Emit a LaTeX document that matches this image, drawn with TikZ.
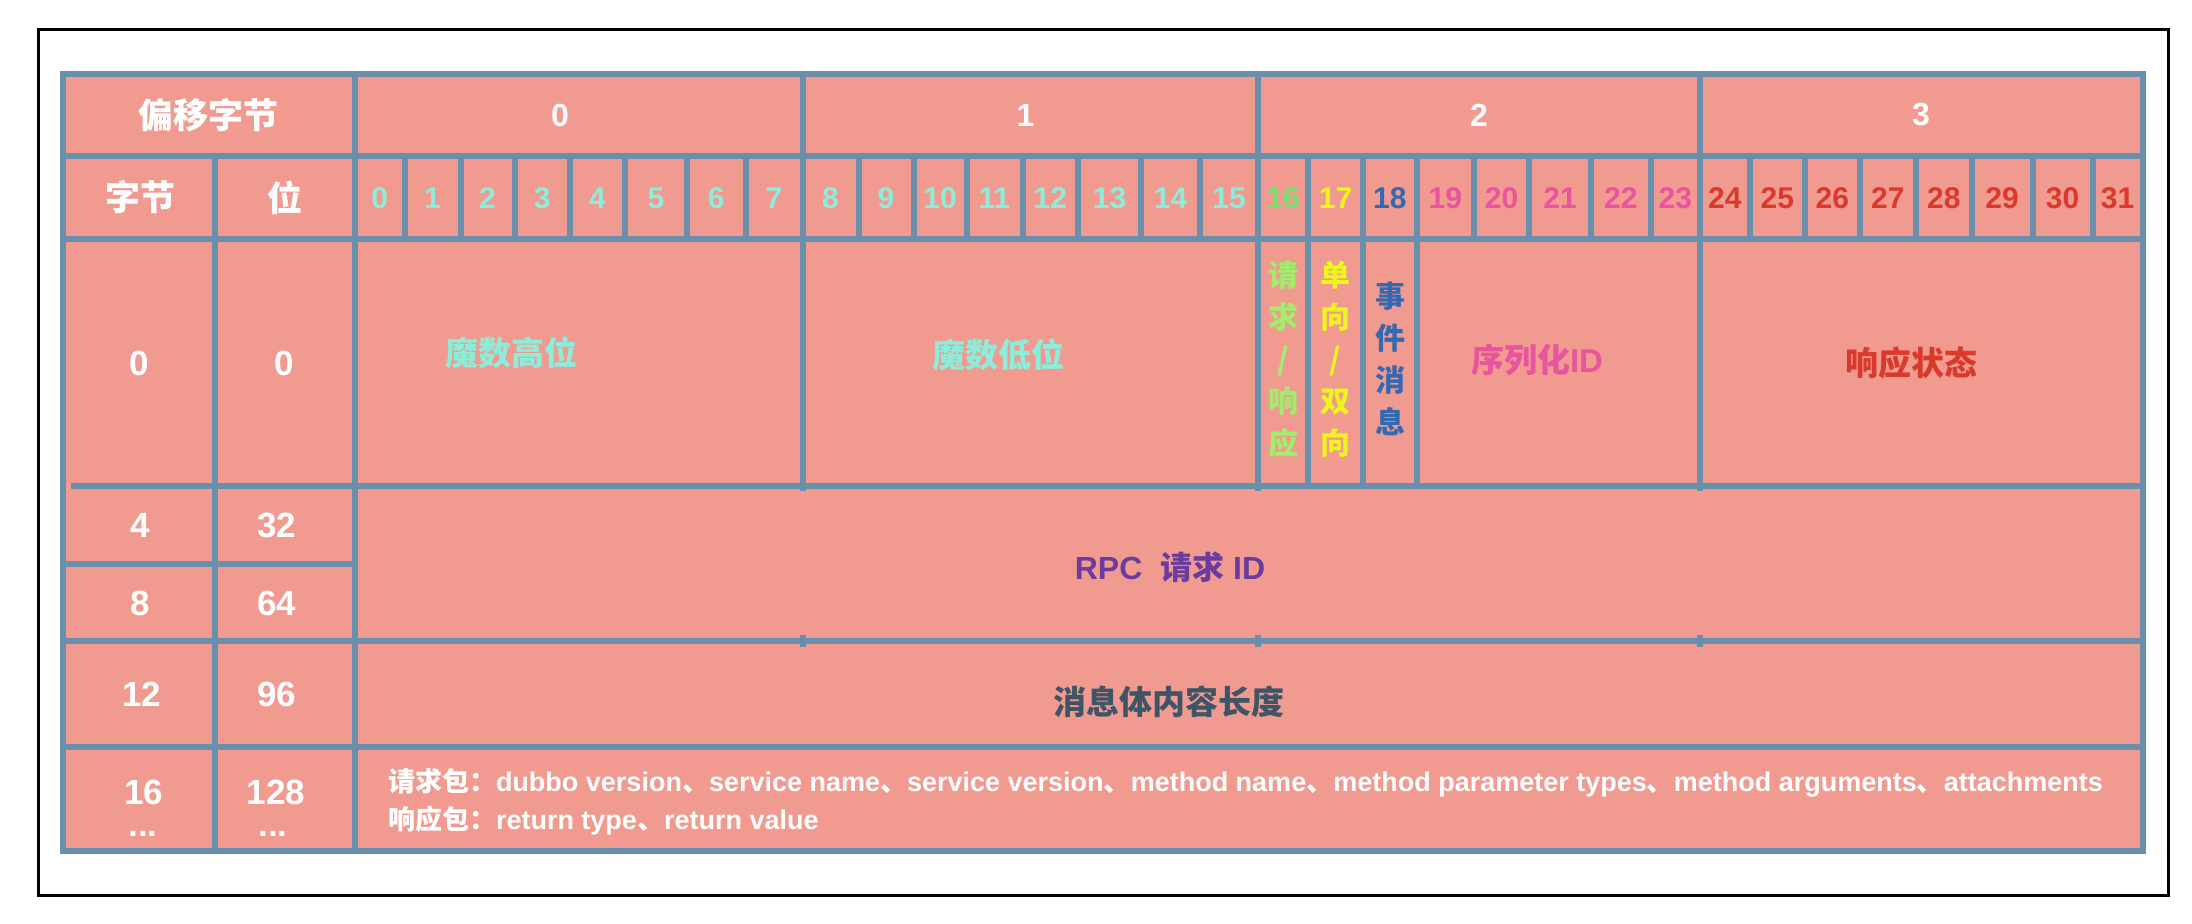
\documentclass[tikz,border=0pt]{standalone}
\usepackage{fontspec}
\setmainfont{Liberation Sans}
\newfontfamily\cjk{Noto Sans CJK SC}
\definecolor{salmonc}{HTML}{F09A90}
\definecolor{gridc}{HTML}{688FAB}
\definecolor{cyanc}{HTML}{8CEEDA}
\definecolor{greenc}{HTML}{6EE66A}
\definecolor{lgreenc}{HTML}{A2EE6C}
\definecolor{yellowc}{HTML}{EEF41E}
\definecolor{bluec}{HTML}{3468B0}
\definecolor{pinkc}{HTML}{E8559E}
\definecolor{redc}{HTML}{D93A2C}
\definecolor{purplec}{HTML}{6A3C9E}
\definecolor{slatec}{HTML}{3E5568}
\begin{document}
\begin{tikzpicture}[x=0.5pt,y=-0.5pt,
  gline/.style={draw=gridc,line width=3pt},
  txt/.style={inner sep=0pt,outer sep=0pt},
  hdr/.style={txt,text=white,font=\bfseries\fontsize{16}{19}\selectfont},
  lnum/.style={txt,text=white,font=\bfseries\fontsize{17.5}{16}\selectfont},
  bitnum/.style={txt,font=\bfseries\fontsize{15}{18}\selectfont},
  zhbig/.style={txt,font=\cjk\bfseries\fontsize{16.5}{20}\selectfont},
  zhhead/.style={txt,text=white,font=\cjk\bfseries\fontsize{17.5}{20}\selectfont},
  vtext/.style={txt,align=center,font=\cjk\bfseries\fontsize{15}{21}\selectfont},
  body/.style={txt,text=white,font=\bfseries\fontsize{13.5}{16}\selectfont}
]
\useasboundingbox (0,0) rectangle (2192,924);
\fill[white] (0,0) rectangle (2192,924);
% outer black frame
\draw[black,line width=1.5pt] (38.5,30) rectangle (2168.5,896);
% table background
\fill[salmonc] (62.5,74.5) rectangle (2142.5,851);
% horizontal lines
\draw[gline] (62.5,156) -- (2142.5,156);
\draw[gline] (62.5,239) -- (2142.5,239);
\draw[gline] (71,486) -- (2142.5,486);
\draw[gline] (62.5,564.5) -- (355,564.5);
\draw[gline] (62.5,641) -- (2142.5,641);
\draw[gline] (62.5,747) -- (2142.5,747);
% vertical lines
\draw[gline] (215,156) -- (215,851);
\draw[gline] (355,74.5) -- (355,851);
\foreach \xx in {802.5,1258,1700}{
  \draw[gline] (\xx,74.5) -- (\xx,491);
  \draw[gline] (\xx,635) -- (\xx,647);
}
\foreach \xx in {1308,1363,1416.5}{
  \draw[gline] (\xx,156) -- (\xx,486);
}
\foreach \xx in {404.5,460.5,514.5,570,625,687,745.5,858.5,913.5,966.5,1022.5,1078,1141,1200,1474,1529,1591,1650.5,1749.5,1805,1859.5,1916,1971.5,2032.5,2092.5}{
  \draw[gline] (\xx,156) -- (\xx,239);
}
\draw[gline,line join=miter] (62.5,74.5) rectangle (2142.5,851);
% row 1
\node[zhhead] (hoff) at (208.5,115) {偏移字节};
\node[hdr] (hb0) at (560,115) {0};
\node[hdr] (hb1) at (1025.5,115) {1};
\node[hdr] (hb2) at (1479,115) {2};
\node[hdr] (hb3) at (1921,115) {3};
% row 2
\node[zhhead] (hbyte) at (140.5,197.5) {字节};
\node[zhhead] (hbit) at (284.5,197.5) {位};
\foreach \i/\xa/\xb/\col in {0/355/404.5/cyanc,1/404.5/460.5/cyanc,2/460.5/514.5/cyanc,3/514.5/570/cyanc,4/570/625/cyanc,5/625/687/cyanc,6/687/745.5/cyanc,7/745.5/802.5/cyanc,8/802.5/858.5/cyanc,9/858.5/913.5/cyanc,10/913.5/966.5/cyanc,11/966.5/1022.5/cyanc,12/1022.5/1078/cyanc,13/1078/1141/cyanc,14/1141/1200/cyanc,15/1200/1258/cyanc,16/1258/1308/greenc,17/1308/1363/yellowc,18/1363/1416.5/bluec,19/1416.5/1474/pinkc,20/1474/1529/pinkc,21/1529/1591/pinkc,22/1591/1650.5/pinkc,23/1650.5/1700/pinkc,24/1700/1749.5/redc,25/1749.5/1805/redc,26/1805/1859.5/redc,27/1859.5/1916/redc,28/1916/1971.5/redc,29/1971.5/2032.5/redc,30/2032.5/2092.5/redc,31/2092.5/2142.5/redc}{
  \node[bitnum,text=\col] (bit\i) at ({(\xa+\xb)/2},198) {\i};
}
% row 3
\node[lnum] (r0a) at (139,363) {0};
\node[lnum] (r0b) at (284,363) {0};
\node[zhbig,text=cyanc] (magichi) at (511,353) {魔数高位};
\node[zhbig,text=cyanc] (magiclo) at (998,355) {魔数低位};
\node[vtext,text=lgreenc] (reqres) at (1283,359) {请\\求\\/\\响\\应};
\node[vtext,text=yellowc] (oneway) at (1335,359) {单\\向\\/\\双\\向};
\node[vtext,text=bluec] (event) at (1390,359) {事\\件\\消\\息};
\node[txt,text=pinkc,font=\bfseries\fontsize{16.5}{20}\selectfont] (serial) at (1537,360) {{\cjk 序列化}ID};
\node[zhbig,text=redc] (status) at (1911,363) {响应状态};
% rows 4,5
\node[lnum] (r4a) at (140,525.5) {4};
\node[lnum] (r4b) at (277,525.5) {32};
\node[lnum] (r8a) at (140,603) {8};
\node[lnum] (r8b) at (277,603) {64};
\node[txt,text=purplec,font=\bfseries\fontsize{16}{19}\selectfont] (rpcid) at (1170,567) {RPC\ \ {\cjk 请求} ID};
% row 6
\node[lnum] (r12a) at (142,694.5) {12};
\node[lnum] (r12b) at (277,694.5) {96};
\node[zhbig,text=slatec] (bodylen) at (1169,702) {消息体内容长度};
% row 7
\node[lnum,anchor=base] (r16a) at (144,805) {16};
\node[lnum,anchor=base] (r16d) at (143,837) {...};
\node[lnum,anchor=base] (r16b) at (276,805) {128};
\node[lnum,anchor=base] (r16e) at (273,837) {...};
\node[body,anchor=base west] (reqpkt) at (388,792) {{\cjk 请求包：}dubbo version{\cjk 、}service name{\cjk 、}service version{\cjk 、}method name{\cjk 、}method parameter types{\cjk 、}method arguments{\cjk 、}attachments};
\node[body,anchor=base west] (respkt) at (388,830) {{\cjk 响应包：}return type{\cjk 、}return value};
\end{tikzpicture}
\end{document}
